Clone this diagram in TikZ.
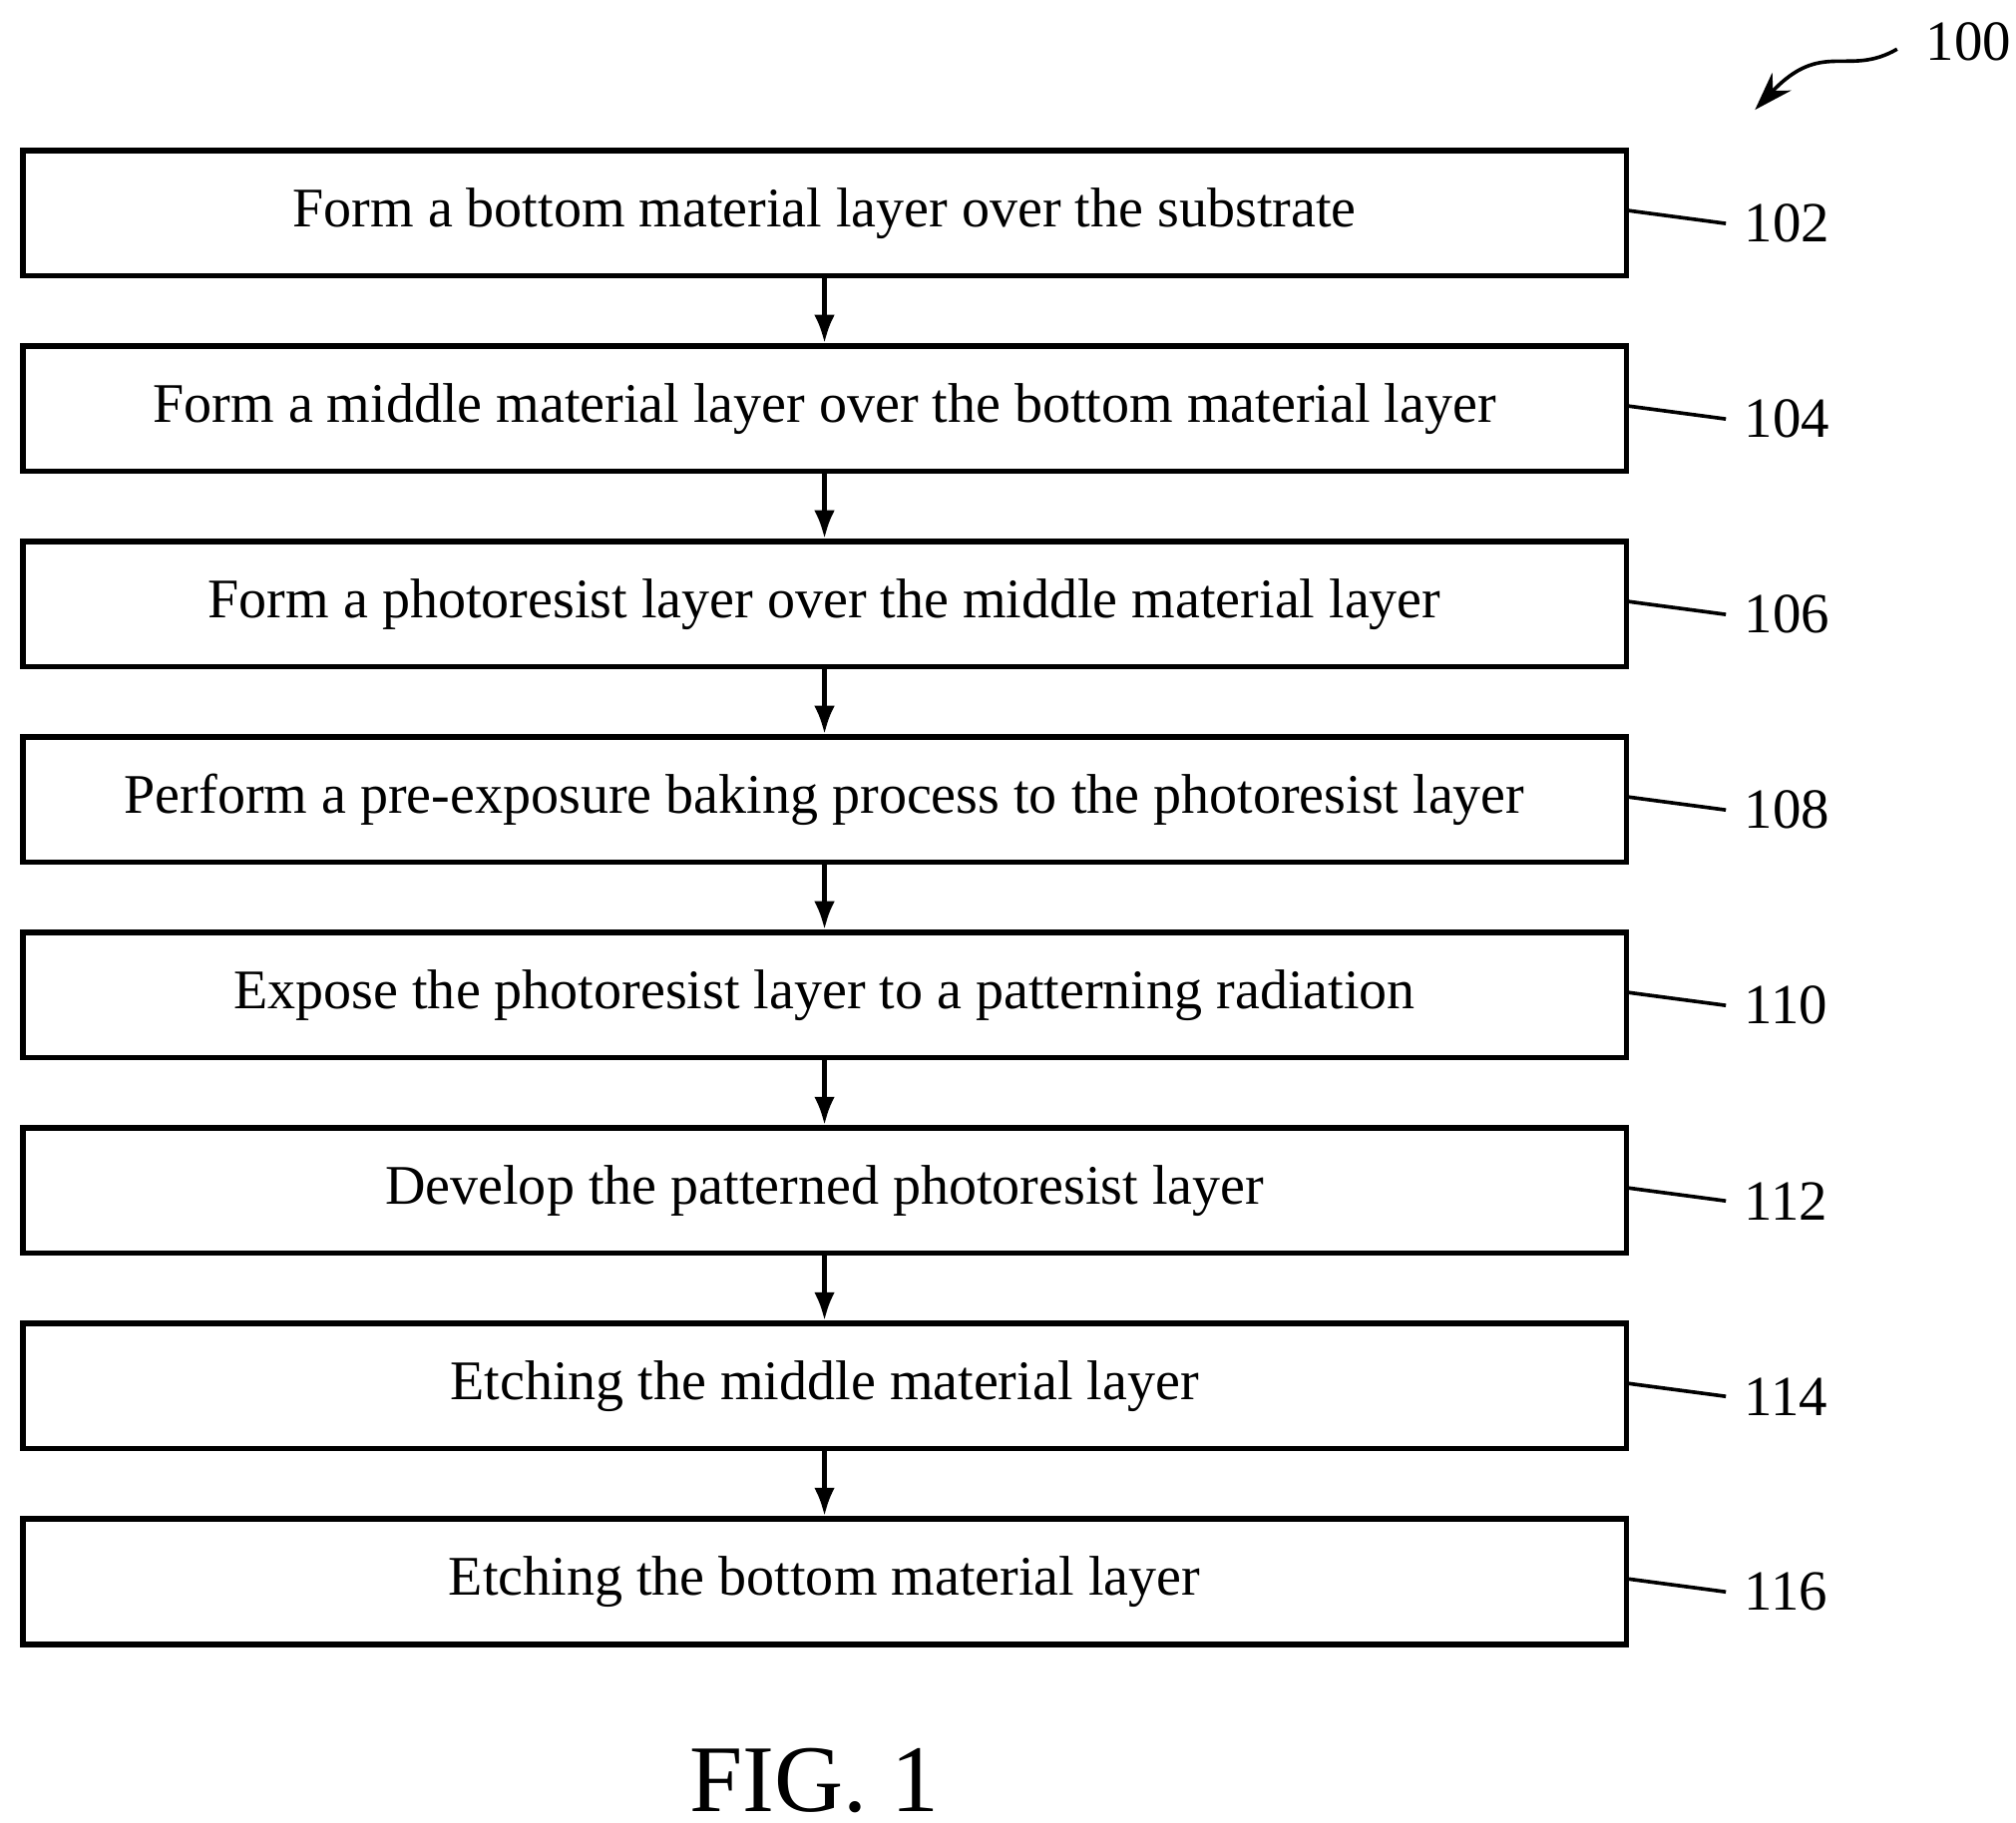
\documentclass[tikz,border=0pt]{standalone}
\usepackage{fontspec}
\setmainfont{Liberation Serif}
\usetikzlibrary{positioning,arrows.meta}
\tikzset{
  procbox/.style={draw, line width=1.2pt, minimum width=12.4cm, minimum height=0.97cm,
    inner sep=0pt, font=\fontsize{12.3}{14}\selectfont},
  ref/.style={font=\fontsize{12.5}{15}\selectfont},
  flow/.style={-{Latex[length=2.2mm,width=1.6mm]}, line width=1pt}
}
\begin{document}
\begin{tikzpicture}[x=0.01cm, y=-0.01cm]

    % Frame
    \useasboundingbox (0,0) rectangle (1560,1411);

    % Steps
    \node[procbox] (s102) at (638,165) {Form a bottom material layer over the substrate};
    \node[procbox, below=0.5cm of s102] (s104) {Form a middle material layer over the bottom material layer};
    \node[procbox, below=0.5cm of s104] (s106) {Form a photoresist layer over the middle material layer};
    \node[procbox, below=0.5cm of s106] (s108) {Perform a pre-exposure baking process to the photoresist layer};
    \node[procbox, below=0.5cm of s108] (s110) {Expose the photoresist layer to a patterning radiation};
    \node[procbox, below=0.5cm of s110] (s112) {Develop the patterned photoresist layer};
    \node[procbox, below=0.5cm of s112] (s114) {Etching the middle material layer};
    \node[procbox, below=0.5cm of s114] (s116) {Etching the bottom material layer};

    % Arrows
    \foreach \a/\b in {102/104, 104/106, 106/108, 108/110, 110/112, 112/114, 114/116}
        \draw[flow] (s\a.south) -- (s\b.north);

    % Reference numerals
    \foreach \n in {102, 104, 106, 108, 110, 112, 114, 116} {
        \coordinate (t\n) at ([xshift=0.75cm, yshift=-0.08cm]s\n.east);
        \draw[line width=0.8pt] ([yshift=0.02cm]s\n.east) .. controls +(0.3,0.12) and +(-0.3,-0.12) .. (t\n);
        \node[ref, right=0.02cm of t\n] (l\n) {\n};
    }

    % Figure number
    \coordinate (a100) at (1468,38);
    \coordinate (h100) at (1358,85);
    \node[ref, anchor=west] (l100) at (1478,32) {100};
    \draw[line width=0.8pt, -{Stealth[length=3mm,width=2mm]}] (a100) .. controls (1430,60) and (1410,30) .. (h100);

    \node[font=\fontsize{21}{24}\selectfont] (fig) at (630,1378) {FIG. 1};

\end{tikzpicture}
\end{document}
